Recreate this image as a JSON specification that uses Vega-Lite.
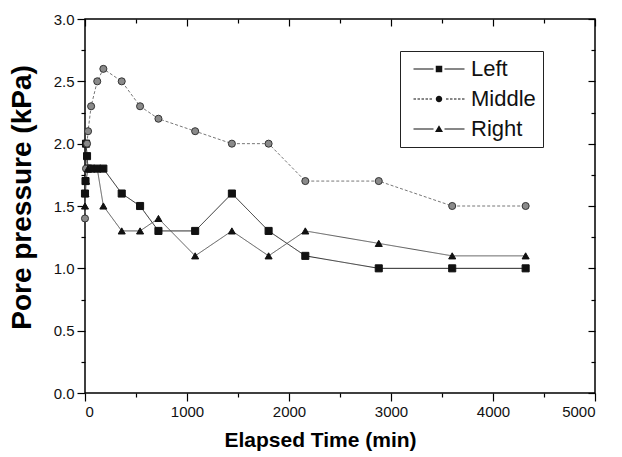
{
  "$schema": "https://vega.github.io/schema/vega-lite/v6.json",
  "autosize": "none",
  "width": 510,
  "height": 374,
  "padding": {"left": 85, "top": 19, "right": 27, "bottom": 64},
  "background": "white",
  "config": {
    "font": "Liberation Sans",
    "view": {"stroke": "#000", "strokeWidth": 1.5},
    "axis": {"labelFont": "Liberation Sans", "titleFont": "Liberation Sans", "labelColor": "#111", "tickColor": "#000", "tickWidth": 1.2, "domain": false, "grid": false}
  },
  "data": {
    "values": [
      {"t": 0, "p": 1.6, "s": "Left"},
      {"t": 5, "p": 1.7, "s": "Left"},
      {"t": 10, "p": 2.0, "s": "Left"},
      {"t": 20, "p": 1.9, "s": "Left"},
      {"t": 30, "p": 1.8, "s": "Left"},
      {"t": 60, "p": 1.8, "s": "Left"},
      {"t": 120, "p": 1.8, "s": "Left"},
      {"t": 180, "p": 1.8, "s": "Left"},
      {"t": 360, "p": 1.6, "s": "Left"},
      {"t": 540, "p": 1.5, "s": "Left"},
      {"t": 720, "p": 1.3, "s": "Left"},
      {"t": 1080, "p": 1.3, "s": "Left"},
      {"t": 1440, "p": 1.6, "s": "Left"},
      {"t": 1800, "p": 1.3, "s": "Left"},
      {"t": 2160, "p": 1.1, "s": "Left"},
      {"t": 2880, "p": 1.0, "s": "Left"},
      {"t": 3600, "p": 1.0, "s": "Left"},
      {"t": 4320, "p": 1.0, "s": "Left"},
      {"t": 0, "p": 1.4, "s": "Middle"},
      {"t": 10, "p": 1.8, "s": "Middle"},
      {"t": 20, "p": 2.0, "s": "Middle"},
      {"t": 30, "p": 2.1, "s": "Middle"},
      {"t": 60, "p": 2.3, "s": "Middle"},
      {"t": 120, "p": 2.5, "s": "Middle"},
      {"t": 180, "p": 2.6, "s": "Middle"},
      {"t": 360, "p": 2.5, "s": "Middle"},
      {"t": 540, "p": 2.3, "s": "Middle"},
      {"t": 720, "p": 2.2, "s": "Middle"},
      {"t": 1080, "p": 2.1, "s": "Middle"},
      {"t": 1440, "p": 2.0, "s": "Middle"},
      {"t": 1800, "p": 2.0, "s": "Middle"},
      {"t": 2160, "p": 1.7, "s": "Middle"},
      {"t": 2880, "p": 1.7, "s": "Middle"},
      {"t": 3600, "p": 1.5, "s": "Middle"},
      {"t": 4320, "p": 1.5, "s": "Middle"},
      {"t": 0, "p": 1.5, "s": "Right"},
      {"t": 5, "p": 1.6, "s": "Right"},
      {"t": 10, "p": 1.7, "s": "Right"},
      {"t": 30, "p": 1.8, "s": "Right"},
      {"t": 120, "p": 1.8, "s": "Right"},
      {"t": 180, "p": 1.5, "s": "Right"},
      {"t": 360, "p": 1.3, "s": "Right"},
      {"t": 540, "p": 1.3, "s": "Right"},
      {"t": 720, "p": 1.4, "s": "Right"},
      {"t": 1080, "p": 1.1, "s": "Right"},
      {"t": 1440, "p": 1.3, "s": "Right"},
      {"t": 1800, "p": 1.1, "s": "Right"},
      {"t": 2160, "p": 1.3, "s": "Right"},
      {"t": 2880, "p": 1.2, "s": "Right"},
      {"t": 3600, "p": 1.1, "s": "Right"},
      {"t": 4320, "p": 1.1, "s": "Right"}
    ]
  },
  "resolve": {
    "axis": {"x": "independent", "y": "independent"},
    "scale": {"shape": "independent", "color": "independent"},
    "legend": {"shape": "independent", "color": "independent"}
  },
  "layer": [
    {
      "mark": {"type": "line", "strokeWidth": 1},
      "encoding": {
        "x": {
          "field": "t", "type": "quantitative",
          "scale": {"domain": [0, 5000], "nice": false, "zero": false},
          "axis": {
            "orient": "bottom",
            "values": [0, 500, 1000, 1500, 2000, 2500, 3000, 3500, 4000, 4500, 5000],
            "labelExpr": "datum.value % 1000 === 0 ? datum.label : ''",
            "format": "d",
            "tickSize": {"condition": {"test": "datum.value % 1000 === 0", "value": 8}, "value": 4},
            "labelFontSize": 15,
            "labelPadding": 3,
            "title": "Elapsed Time (min)",
            "titleFontSize": 21,
            "titleFontWeight": "bold",
            "titleX": 235,
            "titleY": 47,
            "titleAlign": "center",
            "titleBaseline": "middle"
          }
        },
        "y": {
          "field": "p", "type": "quantitative",
          "scale": {"domain": [0, 3], "nice": false, "zero": false},
          "axis": {
            "orient": "left",
            "values": [0, 0.25, 0.5, 0.75, 1, 1.25, 1.5, 1.75, 2, 2.25, 2.5, 2.75, 3],
            "labelExpr": "datum.value % 0.5 === 0 ? format(datum.value, '.1f') : ''",
            "tickSize": {"condition": {"test": "datum.value % 0.5 === 0", "value": 8}, "value": 4},
            "labelFontSize": 15,
            "labelPadding": 3,
            "title": "Pore pressure (kPa)",
            "titleFontSize": 28,
            "titleFontWeight": "bold",
            "titleAngle": 270,
            "titleX": -63,
            "titleY": 178,
            "titleAlign": "center",
            "titleBaseline": "middle"
          }
        },
        "detail": {"field": "s", "type": "nominal"},
        "color": {
          "field": "s", "type": "nominal",
          "scale": {"domain": ["Left", "Middle", "Right"], "range": ["#222222", "#777777", "#555555"]},
          "legend": null
        },
        "strokeDash": {
          "field": "s", "type": "nominal",
          "scale": {"domain": ["Left", "Middle", "Right"], "range": [[1, 0], [3, 2], [1, 0]]},
          "legend": null
        }
      }
    },
    {
      "mark": {"type": "point", "filled": true, "size": 50, "opacity": 1, "strokeWidth": 1},
      "encoding": {
        "x": {
          "field": "t", "type": "quantitative",
          "scale": {"domain": [0, 5000], "nice": false, "zero": false},
          "axis": {
            "orient": "top",
            "values": [0, 500, 1000, 1500, 2000, 2500, 3000, 3500, 4000, 4500, 5000],
            "labels": false,
            "tickSize": {"condition": {"test": "datum.value % 1000 === 0", "value": -7}, "value": -4},
            "title": null
          }
        },
        "y": {
          "field": "p", "type": "quantitative",
          "scale": {"domain": [0, 3], "nice": false, "zero": false},
          "axis": {
            "orient": "right",
            "values": [0, 0.25, 0.5, 0.75, 1, 1.25, 1.5, 1.75, 2, 2.25, 2.5, 2.75, 3],
            "labels": false,
            "tickSize": {"condition": {"test": "datum.value % 0.5 === 0", "value": -7}, "value": -4},
            "title": null
          }
        },
        "shape": {
          "field": "s", "type": "nominal",
          "scale": {"domain": ["Left", "Middle", "Right"], "range": ["square", "circle", "triangle-up"]},
          "legend": null
        },
        "color": {
          "field": "s", "type": "nominal",
          "scale": {"domain": ["Left", "Middle", "Right"], "range": ["#111111", "#8a8a8a", "#111111"]},
          "legend": null
        },
        "stroke": {
          "field": "s", "type": "nominal",
          "scale": {"domain": ["Left", "Middle", "Right"], "range": ["#111111", "#333333", "#111111"]},
          "legend": null
        }
      }
    },
    {
      "mark": {"type": "point", "filled": true, "size": 100, "opacity": 0, "color": "#111111"},
      "encoding": {
        "x": {"field": "t", "type": "quantitative", "scale": {"domain": [0, 5000], "nice": false, "zero": false}, "axis": null},
        "y": {"field": "p", "type": "quantitative", "scale": {"domain": [0, 3], "nice": false, "zero": false}, "axis": null},
        "shape": {
          "field": "s", "type": "nominal",
          "scale": {
            "domain": ["Left", "Middle", "Right"],
            "range": [
              "M-5.1,-0.12H-1.1V0.12H-5.1Z M-0.65,-0.65H0.65V0.65H-0.65Z M1.1,-0.12H5.1V0.12H1.1Z",
              "M-5.1,-0.1H-4.6V0.1H-5.1Z M-4.3,-0.1H-3.8V0.1H-4.3Z M-3.5,-0.1H-3.0V0.1H-3.5Z M-2.7,-0.1H-2.2V0.1H-2.7Z M-1.9,-0.1H-1.4V0.1H-1.9Z M0.65,0A0.65,0.65 0 1,1 -0.65,0A0.65,0.65 0 1,1 0.65,0Z M1.4,-0.1H1.9V0.1H1.4Z M2.2,-0.1H2.7V0.1H2.2Z M3.0,-0.1H3.5V0.1H3.0Z M3.8,-0.1H4.3V0.1H3.8Z M4.6,-0.1H5.1V0.1H4.6Z",
              "M-5.1,-0.1H-1.1V0.1H-5.1Z M0,-0.75L0.8,0.6H-0.8Z M1.1,-0.1H5.1V0.1H1.1Z"
            ]
          },
          "legend": {
            "title": null,
            "orient": "none",
            "legendX": 315,
            "legendY": 32,
            "padding": 7,
            "fillColor": "white",
            "strokeColor": "#222",
            "symbolSize": 100,
            "symbolOffset": 21,
            "labelOffset": 21,
            "labelFont": "Liberation Sans",
            "labelFontSize": 22,
            "labelColor": "#111",
            "rowPadding": 8,
            "symbolOpacity": 1,
            "symbolFillColor": "#111111",
            "symbolStrokeWidth": 0
          }
        }
      }
    }
  ]
}
